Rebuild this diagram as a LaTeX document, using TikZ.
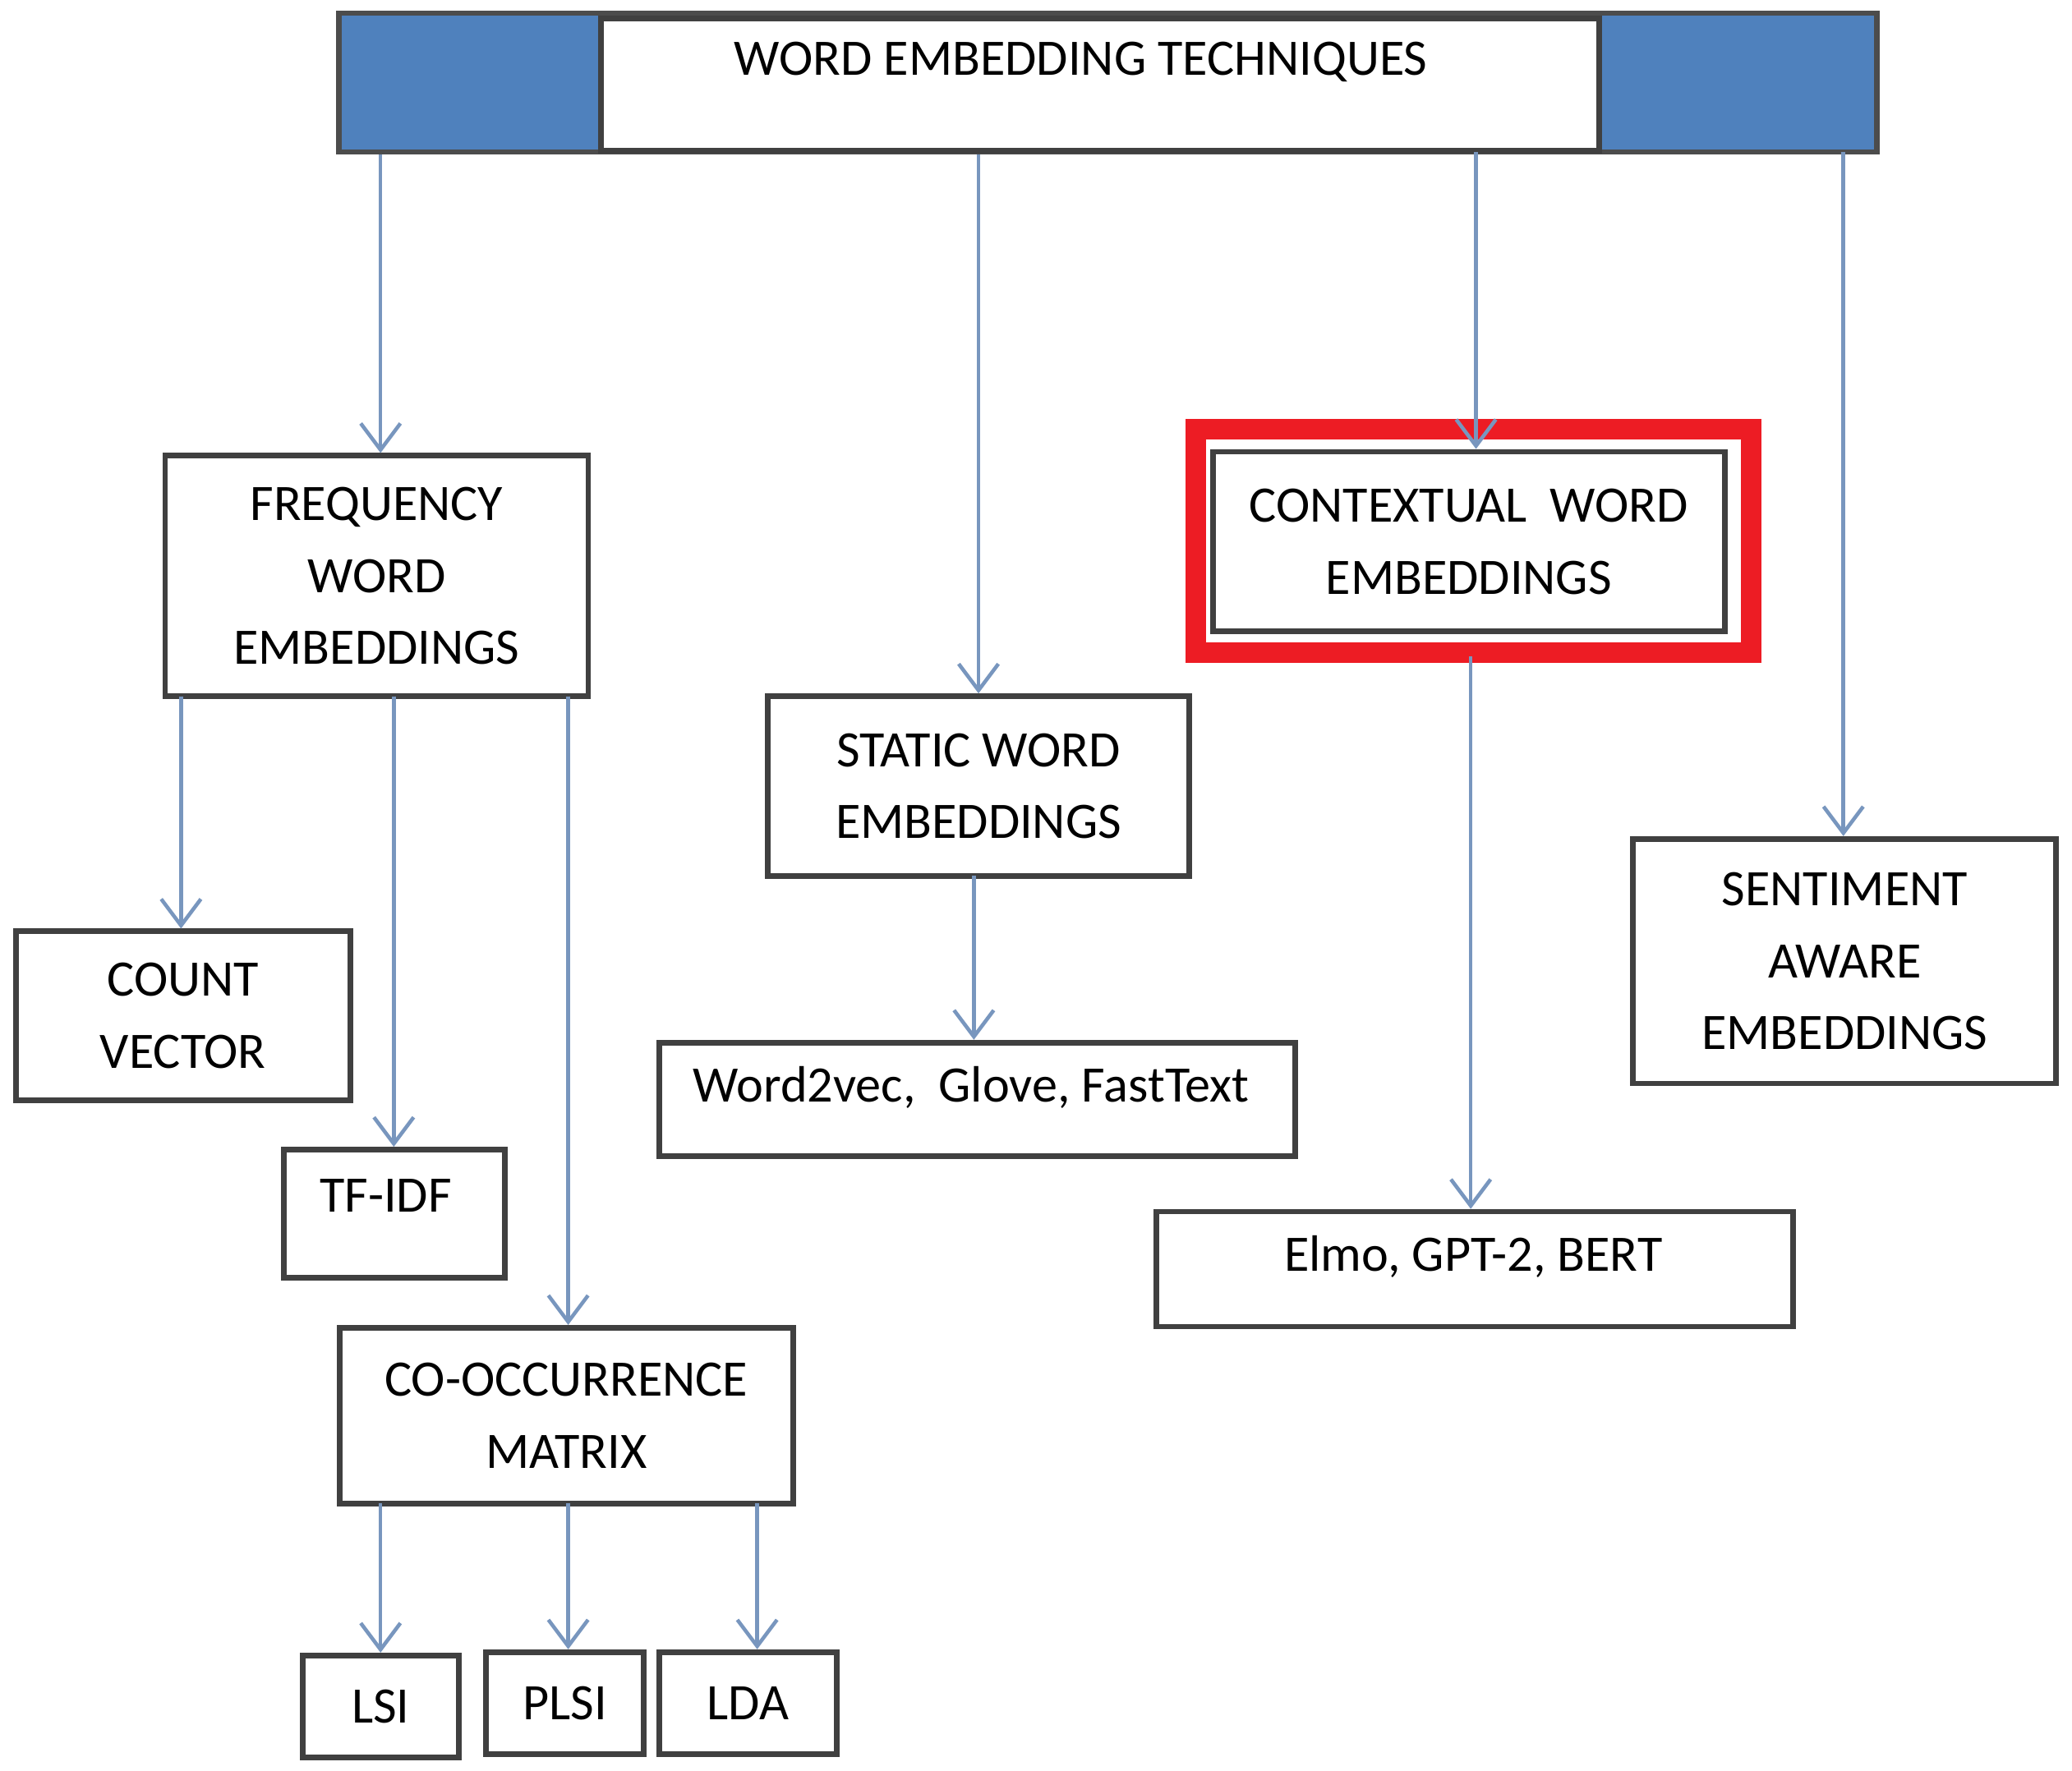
\documentclass[tikz,border=0pt]{standalone}
\usepackage{fontspec}
\setmainfont{Carlito}
\usetikzlibrary{arrows.meta}
\definecolor{barblue}{RGB}{79,129,189}
\definecolor{arr}{RGB}{120,150,190}
\definecolor{redb}{RGB}{237,28,36}
\begin{document}
\begin{tikzpicture}[x=0.01cm,y=-0.01cm,
  box/.style={draw=black!75,line width=1.2pt,fill=white,inner sep=0pt,align=center,font=\fontsize{11}{15.5}\selectfont},
  ar/.style={draw=arr,line width=0.8pt,-{Straight Barb[length=2mm,width=3mm]}}]
\useasboundingbox (0,0) rectangle (1568,1340);
\node[draw=black!70,fill=barblue,line width=1.2pt,minimum width=11.63cm,minimum height=1.05cm,inner sep=0pt] (bar) at (838.5,62.5) {};
\node[box,minimum width=7.55cm,minimum height=1.0cm,anchor=north] (top) at (832.5,12) {};
\node[font=\fontsize{11}{15.5}\selectfont] at (818,47) {WORD EMBEDDING TECHNIQUES};
\node[box,minimum width=3.2cm,minimum height=1.82cm] (freq) at (285,436) {FREQUENCY\\WORD\\EMBEDDINGS};
\node[box,minimum width=2.53cm,minimum height=1.28cm] (count) at (138.5,769) {COUNT\\VECTOR};
\node[box,minimum width=1.67cm,minimum height=0.97cm,anchor=north] (tfidf) at (298.5,868) {};
\node[font=\fontsize{11}{15.5}\selectfont] at (292,905) {TF-IDF};
\node[box,minimum width=3.43cm,minimum height=1.33cm] (cooc) at (428.5,1071.5) {CO-OCCURRENCE\\MATRIX};
\node[box,minimum width=1.18cm,minimum height=0.77cm] (lsi) at (288,1291.5) {LSI};
\node[box,minimum width=1.19cm,minimum height=0.77cm] (plsi) at (427.5,1289) {PLSI};
\node[box,minimum width=1.34cm,minimum height=0.77cm] (lda) at (566,1289) {LDA};
\node[box,minimum width=3.19cm,minimum height=1.36cm] (static) at (740.5,595) {STATIC WORD\\EMBEDDINGS};
\node[box,minimum width=4.81cm,minimum height=0.86cm,anchor=north] (w2v) at (739.5,787) {};
\node[font=\fontsize{11}{15.5}\selectfont] at (735,823) {Word2vec,\ \ Glove,\ FastText};
\node[draw=redb,line width=4.5pt,minimum width=4.2cm,minimum height=1.69cm,inner sep=0pt] (red) at (1115,409.5) {};
\node[box,minimum width=3.87cm,minimum height=1.36cm] (ctx) at (1111.5,410) {CONTEXTUAL\ \ WORD\\EMBEDDINGS};
\node[box,minimum width=4.82cm,minimum height=0.87cm,anchor=north] (elmo) at (1116,915) {};
\node[font=\fontsize{11}{15.5}\selectfont] at (1115,951) {Elmo,\ GPT-2,\ BERT};
\node[box,minimum width=3.2cm,minimum height=1.85cm] (sent) at (1396,727.5) {SENTIMENT\\AWARE\\EMBEDDINGS};
\draw[ar] (bar.south -| freq.center) ++(3,0) coordinate (a1) -- (a1 |- freq.north);
\draw[ar] (bar.south -| static.center) -- (static.north);
\draw[ar] (1117,115) coordinate (a3) -- (a3 |- ctx.north);
\draw[ar] (1395,115) coordinate (a4) -- (a4 |- sent.north);
\draw[ar] (137,527) coordinate (b1) -- (b1 |- count.north);
\draw[ar] (298,527) coordinate (b2) -- (b2 |- tfidf.north);
\draw[ar] (430,527) coordinate (b3) -- (b3 |- cooc.north);
\draw[ar] (288,1138) coordinate (c1) -- (c1 |- lsi.north);
\draw[ar] (430,1138) coordinate (c2) -- (c2 |- plsi.north);
\draw[ar] (573,1138) coordinate (c3) -- (c3 |- lda.north);
\draw[ar] (737,663) coordinate (d1) -- (d1 |- w2v.north);
\draw[ar] (1113,497) coordinate (e1) -- (e1 |- elmo.north);
\end{tikzpicture}
\end{document}
